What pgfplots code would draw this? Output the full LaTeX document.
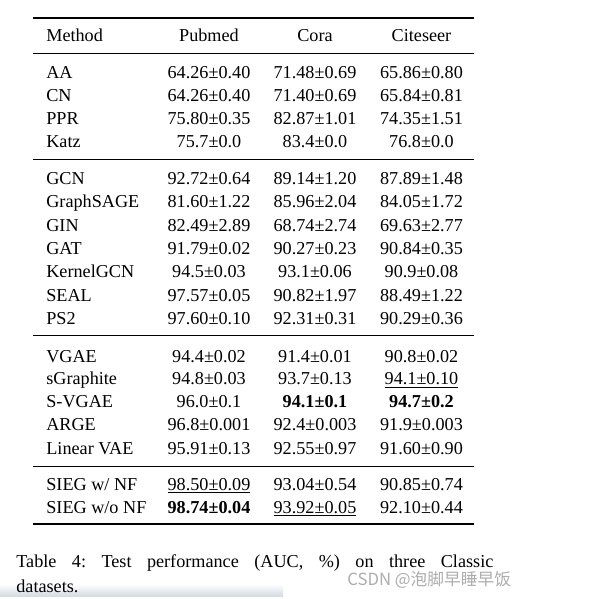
\documentclass[border=0pt]{standalone}
\usepackage{pgfplots}
\pgfplotsset{compat=1.18}
\usepackage{fontspec}
\setmainfont{Liberation Serif}
\newfontfamily\cjk{Noto Sans CJK SC}
\frenchspacing
\newcommand\capone{\makebox[262.35pt][s]{Table 4: Test performance (AUC, \%) on three Classic}}
\definecolor{shadegray}{RGB}{212,218,226}
\pgfplotsset{
  celltext/.style={draw=none, mark=none, nodes near coords, point meta=explicit symbolic,
    every node near coord/.append style={anchor=base, inner sep=0pt, text=black, font=\fontsize{10}{12}\selectfont}},
  methodtext/.style={celltext, every node near coord/.append style={anchor=base west}},
  boldtext/.style={celltext, every node near coord/.append style={font=\fontsize{10}{12}\selectfont\bfseries}},
  heavyrule/.style={black, line width=0.8pt, mark=none},
  lightrule/.style={black, line width=0.5pt, mark=none},
}
\begin{document}
\fontsize{10}{12}\selectfont\frenchspacing
\begin{tikzpicture}
\begin{axis}[
  x=0.55pt, y=0.55pt, y dir=reverse,
  xmin=0, xmax=615, ymin=0, ymax=599,
  hide axis, clip=false,
]
% background (sets the picture's extent)
\addplot[fill=white, draw=none, mark=none] coordinates {(0,0) (615,0) (615,599) (0,599)};
% faint shading at the bottom left of the screenshot
\addplot[draw=none, mark=none, top color=white, bottom color=shadegray] coordinates {(0,584) (283,584) (283,596.5) (0,596.5)};
% rules
\addplot[heavyrule] coordinates {(33,18) (474,18)};
\addplot[lightrule] coordinates {(33,53) (474,53)};
\addplot[lightrule] coordinates {(33,159) (474,159)};
\addplot[lightrule] coordinates {(33,335.5) (474,335.5)};
\addplot[lightrule] coordinates {(33,466) (474,466)};
\addplot[heavyrule] coordinates {(33,524) (474,524)};
% method column
\addplot[methodtext] coordinates {
 (46,42) [Method]
 (46,79) [AA] (46,102) [CN] (46,125) [PPR] (46,148) [Katz]
 (46,184.3) [GCN] (46,207.7) [GraphSAGE] (46,231) [GIN] (46,254) [GAT]
 (46,277.7) [KernelGCN] (46,301) [SEAL] (46,324.3) [PS2]
 (46,362) [VGAE] (46,384.5) [sGraphite] (46,407.5) [S-VGAE] (46,430.5) [ARGE] (46,454) [Linear VAE]
 (46,490) [SIEG w/ NF] (46,513) [SIEG w/o NF]
};
% headers
\addplot[celltext] coordinates {(209,42) [Pubmed] (315,42) [Cora] (421.5,42) [Citeseer]};
% Pubmed
\addplot[celltext] coordinates {
 (209,79) [64.26±0.40] (209,102) [64.26±0.40] (209,125) [75.80±0.35] (209,148) [75.7±0.0]
 (209,184.3) [92.72±0.64] (209,207.7) [81.60±1.22] (209,231) [82.49±2.89] (209,254) [91.79±0.02]
 (209,277.7) [94.5±0.03] (209,301) [97.57±0.05] (209,324.3) [97.60±0.10]
 (209,362) [94.4±0.02] (209,384.5) [94.8±0.03] (209,407.5) [96.0±0.1] (209,430.5) [96.8±0.001] (209,454) [95.91±0.13]
 (209,490) [\underline{98.50±0.09}]
};
\addplot[boldtext] coordinates {(209,513) [98.74±0.04]};
% Cora
\addplot[celltext] coordinates {
 (315,79) [71.48±0.69] (315,102) [71.40±0.69] (315,125) [82.87±1.01] (315,148) [83.4±0.0]
 (315,184.3) [89.14±1.20] (315,207.7) [85.96±2.04] (315,231) [68.74±2.74] (315,254) [90.27±0.23]
 (315,277.7) [93.1±0.06] (315,301) [90.82±1.97] (315,324.3) [92.31±0.31]
 (315,362) [91.4±0.01] (315,384.5) [93.7±0.13] (315,430.5) [92.4±0.003] (315,454) [92.55±0.97]
 (315,490) [93.04±0.54] (315,513) [\underline{93.92±0.05}]
};
\addplot[boldtext] coordinates {(315,407.5) [94.1±0.1]};
% Citeseer
\addplot[celltext] coordinates {
 (421.5,79) [65.86±0.80] (421.5,102) [65.84±0.81] (421.5,125) [74.35±1.51] (421.5,148) [76.8±0.0]
 (421.5,184.3) [87.89±1.48] (421.5,207.7) [84.05±1.72] (421.5,231) [69.63±2.77] (421.5,254) [90.84±0.35]
 (421.5,277.7) [90.9±0.08] (421.5,301) [88.49±1.22] (421.5,324.3) [90.29±0.36]
 (421.5,362) [90.8±0.02] (421.5,384.5) [\underline{94.1±0.10}] (421.5,430.5) [91.9±0.003] (421.5,454) [91.60±0.90]
 (421.5,490) [90.85±0.74] (421.5,513) [92.10±0.44]
};
\addplot[boldtext] coordinates {(421.5,407.5) [94.7±0.2]};
% caption
\addplot[methodtext] coordinates {
 (16,567) [\capone]
 (16,592) [datasets.]
};
% watermark
\addplot[draw=none, mark=none, nodes near coords, point meta=explicit symbolic,
  every node near coord/.append style={anchor=base west, inner sep=0pt, text=black!32, font=\cjk\fontsize{9.2}{11}\selectfont}]
  coordinates {(347,585) [CSDN @泡脚早睡早饭]};
\end{axis}
\end{tikzpicture}
\end{document}
